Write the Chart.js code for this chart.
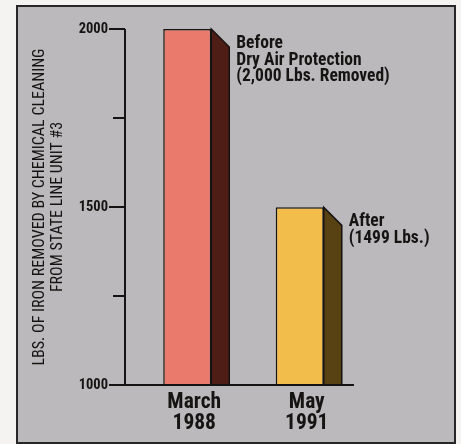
<!DOCTYPE html>
<html>
<head>
<meta charset="utf-8">
<script src="https://cdn.jsdelivr.net/npm/chart.js@4"></script>
<style>
    body { margin: 0; background: #f4f3f1; }
    .frame {
        position: absolute; left: 16px; top: 5px;
        width: 436px; height: 435px;
        border: 2px solid #262626;
        background: #bbb9bb;
    }
    canvas { display: block; }
</style>
</head>
<body>
<div class="frame"><canvas id="ironChart" width="436" height="435"></canvas></div>
<script>
// Chart data
const periods = ['March', 'May'];
const years = ['1988', '1991'];
const ironRemoved = [2000, 1499];
const notes = [
    ['Before', 'Dry Air Protection', '(2,000 Lbs. Removed)'],
    ['After', '(1499 Lbs.)']
];
const majorTicks = [1000, 1500, 2000];
const axisTitle = ['LBS. OF IRON REMOVED BY CHEMICAL CLEANING', 'FROM STATE LINE UNIT #3'];

const frontColors = ['#ea7a6b', '#f2bd4b'];
const sideColors = ['#4e1d15', '#584214'];
const ink = '#161412';
const narrow = "'Roboto Condensed', 'Archivo Narrow', 'DejaVu Sans Condensed', sans-serif";

// side faces, axis lines and the notes next to each bar
const barExtras = {
    id: 'barExtras',
    afterDatasetsDraw(chart) {
        const ctx = chart.ctx;
        const yScale = chart.scales.y;
        const area = chart.chartArea;
        const depth = 18;
        const axisX = area.left - 6;
        const floor = yScale.getPixelForValue(yScale.min);

        chart.getDatasetMeta(0).data.forEach((bar, i) => {
            const right = bar.x + bar.width / 2;
            const bottom = Math.min(bar.base, floor);
            ctx.save();
            ctx.beginPath();
            ctx.moveTo(right, bar.y);
            ctx.lineTo(right + depth, bar.y + depth);
            ctx.lineTo(right + depth, bottom);
            ctx.lineTo(right, bottom);
            ctx.closePath();
            ctx.fillStyle = sideColors[i];
            ctx.fill();
            ctx.lineWidth = 1.5;
            ctx.strokeStyle = ink;
            ctx.stroke();

            ctx.fillStyle = ink;
            ctx.font = 'bold 17.5px ' + narrow;
            ctx.textAlign = 'left';
            ctx.textBaseline = 'alphabetic';
            notes[i].forEach((line, k) => {
                ctx.fillText(line, right + depth + 7, bar.y + 19 + k * 16.5);
            });
            ctx.restore();
        });

        ctx.save();
        ctx.strokeStyle = ink;
        ctx.lineWidth = 2;
        ctx.beginPath();
        ctx.moveTo(axisX, yScale.getPixelForValue(yScale.max));
        ctx.lineTo(axisX, floor);
        ctx.lineTo(area.right - 2, floor);
        ctx.stroke();
        yScale.ticks.forEach(t => {
            const py = yScale.getPixelForValue(t.value);
            const len = majorTicks.includes(t.value) ? 16 : 12;
            ctx.beginPath();
            ctx.moveTo(axisX - len, py);
            ctx.lineTo(axisX, py);
            ctx.stroke();
        });
        ctx.restore();
    }
};

new Chart(document.getElementById('ironChart'), {
    type: 'bar',
    data: {
        labels: periods.map((p, i) => [p, years[i]]),
        datasets: [{
            data: ironRemoved,
            backgroundColor: frontColors,
            borderColor: ink,
            borderWidth: 1.5,
            borderSkipped: false,
            barPercentage: 0.427,
            categoryPercentage: 1
        }]
    },
    options: {
        responsive: false,
        animation: false,
        layout: { padding: { left: 0, right: 98, top: 22, bottom: 0 } },
        plugins: { legend: { display: false }, tooltip: { enabled: false } },
        scales: {
            x: {
                grid: { display: false, drawTicks: false },
                border: { display: false },
                ticks: {
                    color: ink,
                    padding: 7,
                    labelOffset: 7,
                    font: { family: narrow, size: 21.5, weight: 'bold', lineHeight: 0.97 }
                },
                afterFit(scale) { scale.height = 57; }
            },
            y: {
                min: 1000,
                max: 2000,
                grid: { display: false, drawTicks: false },
                border: { display: false },
                ticks: {
                    stepSize: 250,
                    color: ink,
                    padding: 23,
                    font: { family: narrow, size: 14.5, weight: 'bold' },
                    callback: v => majorTicks.includes(v) ? String(v) : ''
                },
                title: {
                    display: true,
                    text: axisTitle,
                    color: ink,
                    padding: { top: 13, bottom: 0 },
                    font: { family: narrow, size: 16, lineHeight: 1.125 }
                },
                afterFit(scale) {
                    scale.width = 113;
                    scale.paddingTop = 0;
                    scale.paddingBottom = 0;
                }
            }
        }
    },
    plugins: [barExtras]
});
</script>
</body>
</html>
